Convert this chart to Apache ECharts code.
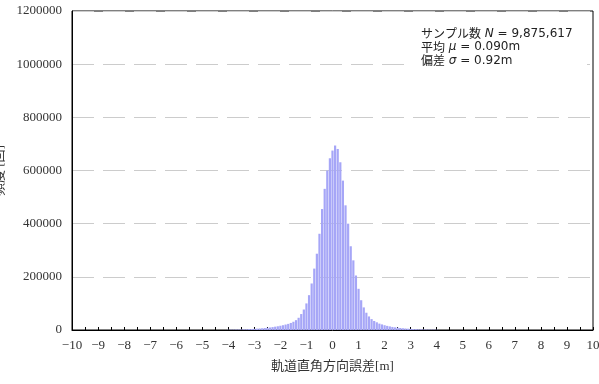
<!DOCTYPE html>
<html>
<head>
<meta charset="utf-8">
<script src="https://cdn.jsdelivr.net/npm/echarts@6/dist/echarts.min.js"></script>
<style>
html,body{margin:0;padding:0;background:#fff;}
#c{width:599px;height:384px;}
</style>
</head>
<body>
<div id="c"></div>
<script>
// Bin centres [m] (bin width 0.1 m)
var binCenters = [
 -4.0,-3.9,-3.8,-3.7,-3.6,-3.5,-3.4,-3.3,-3.2,-3.1,
 -3.0,-2.9,-2.8,-2.7,-2.6,-2.5,-2.4,-2.3,-2.2,-2.1,
 -2.0,-1.9,-1.8,-1.7,-1.6,-1.5,-1.4,-1.3,-1.2,-1.1,
 -1.0,-0.9,-0.8,-0.7,-0.6,-0.5,-0.4,-0.3,-0.2,-0.1,
 0.0,0.1,0.2,0.3,0.4,0.5,0.6,0.7,0.8,0.9,
 1.0,1.1,1.2,1.3,1.4,1.5,1.6,1.7,1.8,1.9,
 2.0,2.1,2.2,2.3,2.4,2.5,2.6,2.7,2.8,2.9,
 3.0,3.1,3.2,3.3,3.4,3.5,3.6,3.7,3.8,3.9,
 4.0
];
// Frequencies
var counts = [
 1000,1200,1400,1600,1800,2100,2400,2800,3200,3700,
 4300,5000,5700,6500,7400,8400,9500,11000,12500,14000,
 16000,18000,20500,23000,26500,31000,37000,46000,60000,77000,
 100000,131000,175000,231000,287000,362000,455000,531000,600000,646000,
 675000,694000,681000,631000,562000,469000,400000,315000,262000,205000,
 155000,112000,85000,65000,51000,41000,34000,29000,24000,21000,
 18000,15500,13500,11500,10000,8800,7600,6600,5700,4900,
 4200,3600,3100,2700,2300,2000,1700,1500,1300,1100,
 1000
];
var yTicks = [0,200000,400000,600000,800000,1000000,1200000];
var xTitle = '軌道直角方向誤差[m]';
var yTitle = '頻度 [回]';
var noteN = '9,875,617';
var noteMu = '0.090m';
var noteSigma = '0.92m';

var serif = '"Liberation Serif","DejaVu Serif","Noto Sans CJK JP",serif';
var gothic = '"Noto Sans CJK JP","Noto Sans",sans-serif';
var latin = '"DejaVu Sans","Noto Sans",sans-serif';

var data = binCenters.map(function(x,i){return [x, counts[i]];});

var chart = echarts.init(document.getElementById('c'));
chart.setOption({
  animation:false,
  backgroundColor:'#fff',
  grid:{left:72,right:6,top:11,bottom:54,containLabel:false,outerBoundsMode:'none',
        show:true,borderColor:'#000',borderWidth:1,backgroundColor:'transparent'},
  xAxis:{
    type:'value',min:-10,max:10,interval:0.5,
    name:xTitle,nameLocation:'middle',nameGap:30,
    nameTextStyle:{fontFamily:serif,fontSize:13,color:'#333'},
    axisLine:{show:true,onZero:false,lineStyle:{color:'#000',width:1}},
    axisTick:{show:true,inside:true,length:3,lineStyle:{color:'#000'}},
    axisLabel:{margin:9,fontFamily:serif,fontSize:13,color:'#333',
      formatter:function(v){ if(Math.abs(v-Math.round(v))>1e-6) return ''; return String(Math.round(v)).replace('-','\u2212');}},
    splitLine:{show:false}
  },
  yAxis:{
    type:'value',min:yTicks[0],max:yTicks[yTicks.length-1],interval:yTicks[1]-yTicks[0],
    name:yTitle,nameLocation:'middle',nameGap:56,
    nameTextStyle:{fontFamily:serif,fontSize:13,color:'#333'},
    axisLine:{show:true,onZero:false,lineStyle:{color:'#000',width:1}},
    axisTick:{show:false},
    axisLabel:{margin:10,fontFamily:serif,fontSize:13,color:'#333',
      formatter:function(v){return String(v);}},
    splitLine:{show:true,lineStyle:{color:'#cccccc',type:[22,9],width:1}}
  },
  series:[{
    type:'bar',data:data,barWidth:2.2,
    itemStyle:{color:'#a6a6f7'},
    emphasis:{disabled:true}
  }],
  graphic:[
    {type:'rect',shape:{x:410,y:22,width:177,height:46},style:{fill:'#fff'},z:100},
    {type:'text',left:421,top:27,z:101,style:{
      text:'サンプル数{s| }{i|N}{s| = '+noteN+'}\n平均{s| }{i|μ}{s| = '+noteMu+'}\n偏差{s| }{i|σ}{s| = '+noteSigma+'}',
      font:'12px '+gothic,fill:'#222',lineHeight:13.5,
      rich:{
        i:{fontStyle:'italic',fontFamily:latin,fontSize:12,fill:'#222',lineHeight:13.5},
        s:{fontFamily:latin,fontSize:12,fill:'#222',lineHeight:13.5}
      }
    }}
  ]
});
</script>
</body>
</html>
